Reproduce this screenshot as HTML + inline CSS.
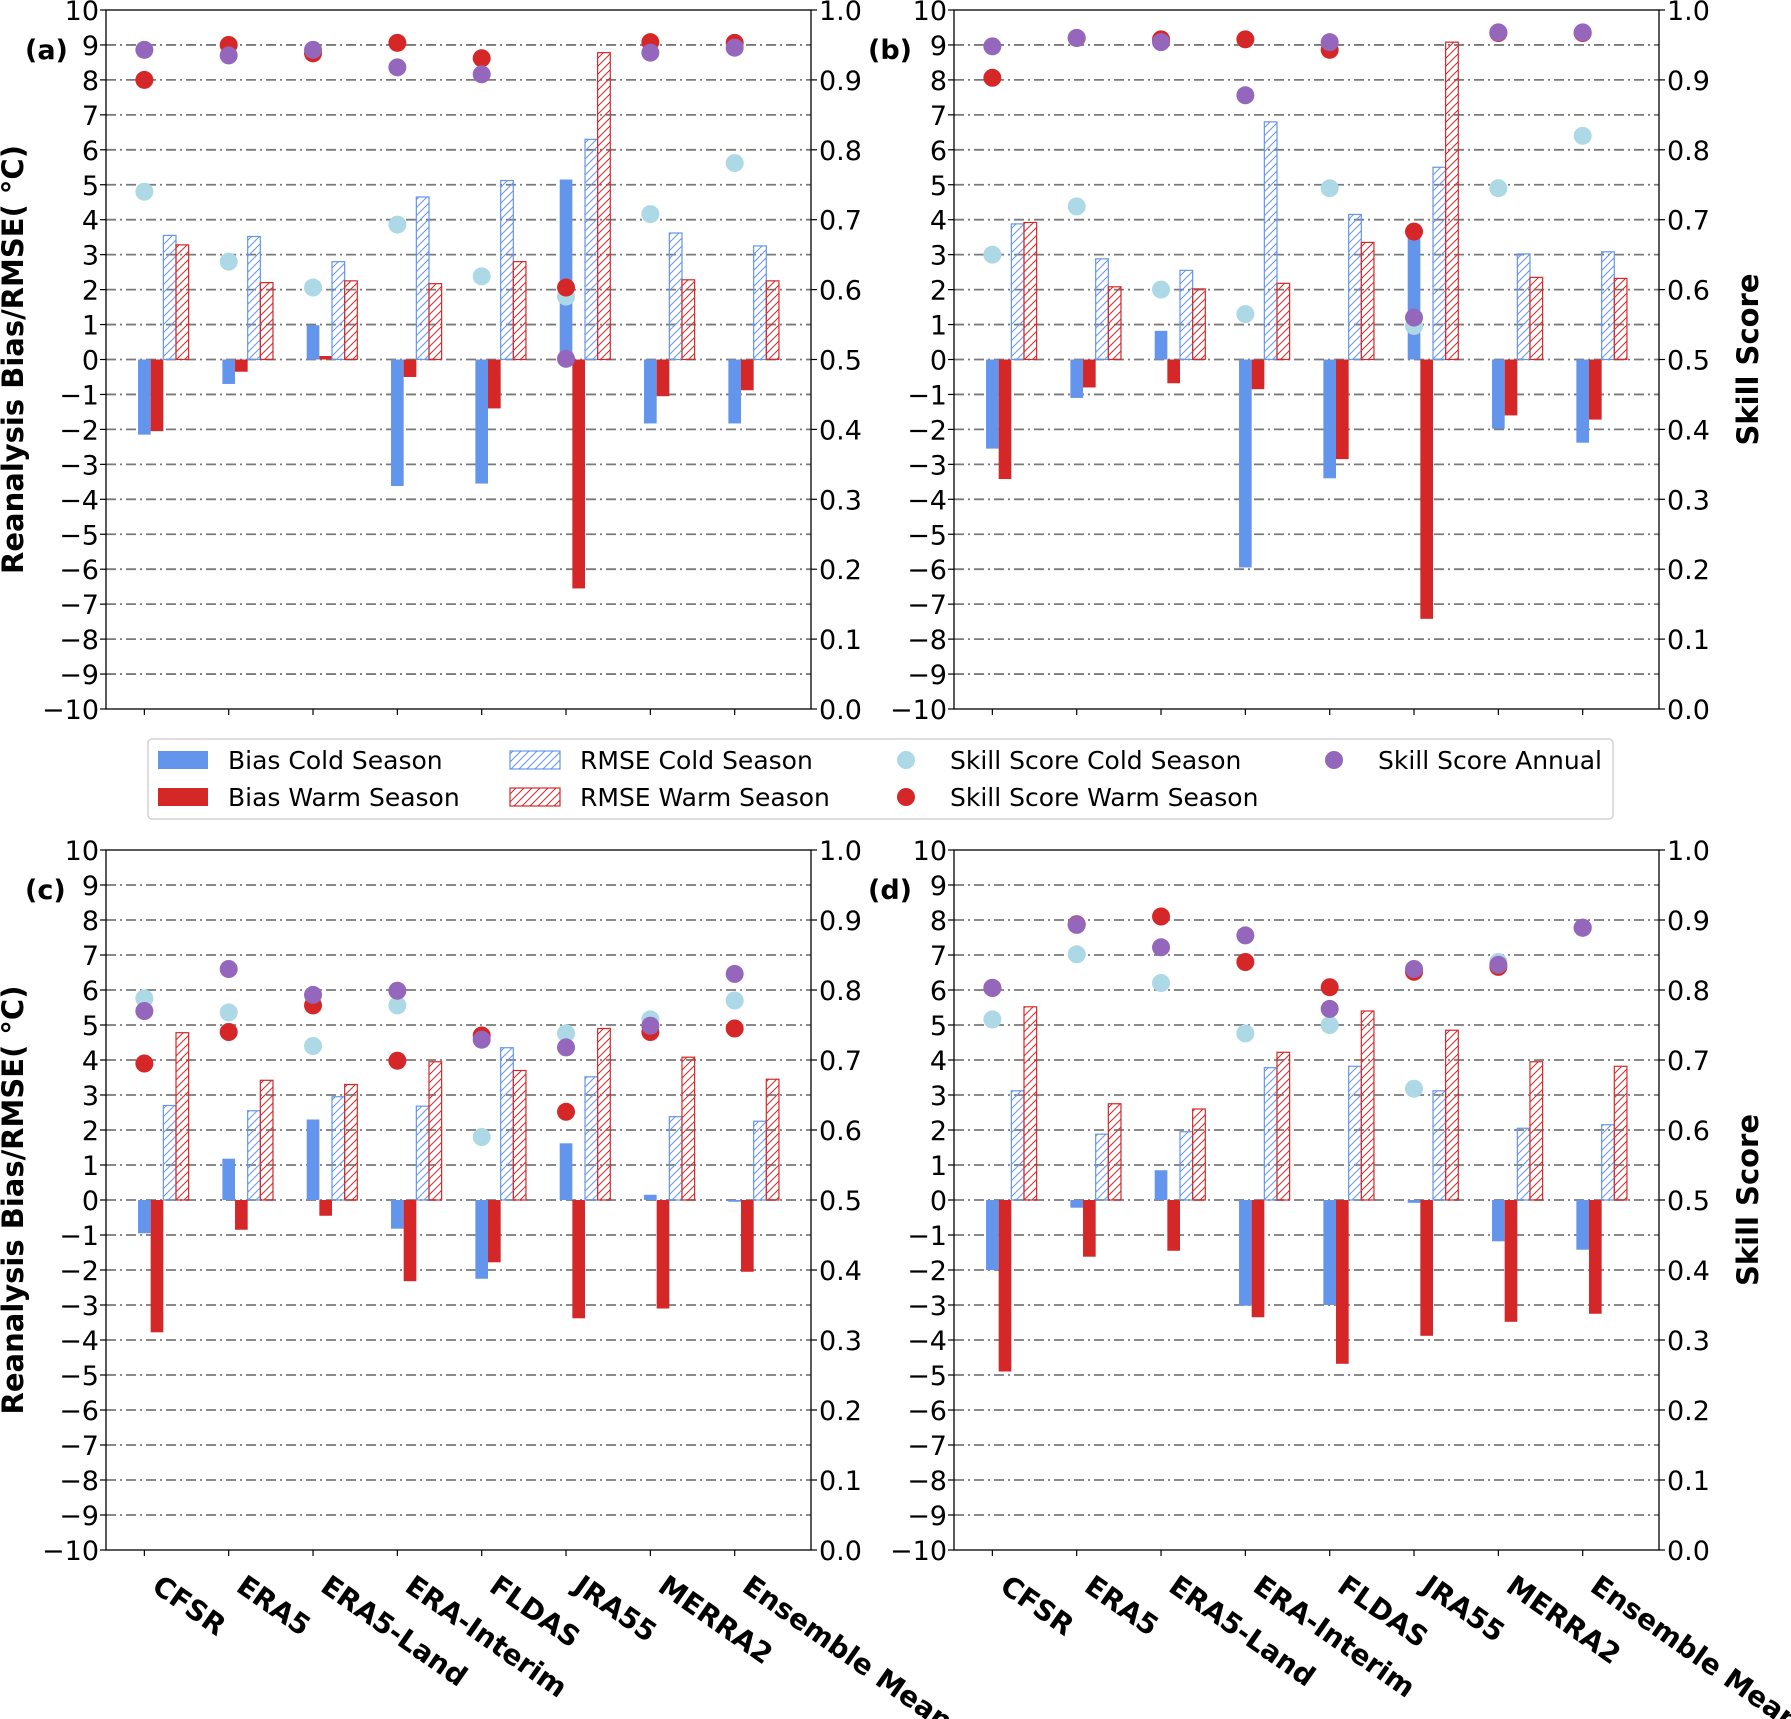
<!DOCTYPE html>
<html><head><meta charset="utf-8"><style>
html,body{margin:0;padding:0;background:#fff;}
svg{display:block;font-family:"DejaVu Sans","Liberation Sans",sans-serif;}
</style></head><body>
<svg id="fig" width="1791" height="1719" viewBox="0 0 1791 1719" xmlns="http://www.w3.org/2000/svg">
<defs>
<pattern id="hatchC" patternUnits="userSpaceOnUse" width="8" height="8">
<path d="M-2,2 l4,-4 M0,8 l8,-8 M6,10 l4,-4" stroke="#6495ED" stroke-width="1"/></pattern>
<pattern id="hatchW" patternUnits="userSpaceOnUse" width="8" height="8">
<path d="M-2,2 l4,-4 M0,8 l8,-8 M6,10 l4,-4" stroke="#D62728" stroke-width="1"/></pattern>
</defs>
</svg>
<script>
const categories=["CFSR","ERA5","ERA5-Land","ERA-Interim","FLDAS","JRA55","MERRA2","Ensemble Mean"];
// panel a
const aBiasCold=[-2.15,-0.7,0.98,-3.62,-3.55,5.15,-1.83,-1.83];
const aBiasWarm=[-2.05,-0.35,0.1,-0.5,-1.4,-6.55,-1.05,-0.88];
const aRmseCold=[3.55,3.52,2.8,4.65,5.12,6.3,3.62,3.25];
const aRmseWarm=[3.28,2.2,2.25,2.17,2.8,8.78,2.28,2.25];
const aSkillCold=[0.74,0.64,0.603,0.693,0.619,0.59,0.708,0.781];
const aSkillWarm=[0.90,0.95,0.938,0.953,0.931,0.603,0.954,0.953];
const aSkillAnnual=[0.943,0.935,0.943,0.918,0.908,0.501,0.939,0.946];
// panel b
const bBiasCold=[-2.55,-1.1,0.82,-5.95,-3.4,3.62,-1.98,-2.38];
const bBiasWarm=[-3.42,-0.8,-0.68,-0.85,-2.85,-7.42,-1.6,-1.72];
const bRmseCold=[3.88,2.88,2.55,6.8,4.15,5.5,3.02,3.08];
const bRmseWarm=[3.92,2.08,2.02,2.18,3.35,9.08,2.35,2.32];
const bSkillCold=[0.65,0.719,0.60,0.565,0.745,0.548,0.745,0.82];
const bSkillWarm=[0.903,0.96,0.958,0.958,0.943,0.683,0.967,0.967];
const bSkillAnnual=[0.948,0.96,0.954,0.878,0.954,0.56,0.968,0.968];
// panel c
const cBiasCold=[-0.95,1.18,2.3,-0.82,-2.25,1.62,0.15,-0.05];
const cBiasWarm=[-3.78,-0.85,-0.45,-2.32,-1.78,-3.38,-3.1,-2.05];
const cRmseCold=[2.7,2.55,2.95,2.68,4.35,3.52,2.38,2.25];
const cRmseWarm=[4.78,3.42,3.3,3.95,3.7,4.9,4.08,3.45];
const cSkillCold=[0.788,0.768,0.72,0.778,0.59,0.738,0.758,0.785];
const cSkillWarm=[0.695,0.74,0.778,0.699,0.735,0.626,0.74,0.745];
const cSkillAnnual=[0.77,0.83,0.793,0.799,0.729,0.718,0.749,0.823];
// panel d
const dBiasCold=[-2.0,-0.22,0.85,-3.02,-3.0,-0.08,-1.18,-1.42];
const dBiasWarm=[-4.9,-1.62,-1.45,-3.35,-4.68,-3.88,-3.48,-3.25];
const dRmseCold=[3.12,1.88,1.95,3.78,3.82,3.12,2.05,2.15];
const dRmseWarm=[5.52,2.75,2.6,4.22,5.4,4.85,3.95,3.82];
const dSkillCold=[0.758,0.851,0.81,0.738,0.75,0.659,0.84,0.889];
const dSkillWarm=[0.803,0.894,0.905,0.84,0.804,0.826,0.833,0.889];
const dSkillAnnual=[0.803,0.893,0.861,0.878,0.773,0.83,0.836,0.889];
const leftTicks=[-10,-9,-8,-7,-6,-5,-4,-3,-2,-1,0,1,2,3,4,5,6,7,8,9,10];
const rightTicks=["0.0","0.1","0.2","0.3","0.4","0.5","0.6","0.7","0.8","0.9","1.0"];

const NS="http://www.w3.org/2000/svg";
const svg=document.getElementById('fig');
function mk(tag,attrs,parent,text){const e=document.createElementNS(NS,tag);for(const k in attrs)e.setAttribute(k,attrs[k]);if(text!==undefined)e.textContent=text;(parent||svg).appendChild(e);return e;}

const panels=[
 {id:'a',L:106,R:811,T:10,B:709,bc:aBiasCold,bw:aBiasWarm,rc:aRmseCold,rw:aRmseWarm,sc:aSkillCold,sw:aSkillWarm,sa:aSkillAnnual,leftLab:true,rightLab:false,xl:false},
 {id:'b',L:954,R:1659,T:10,B:709,bc:bBiasCold,bw:bBiasWarm,rc:bRmseCold,rw:bRmseWarm,sc:bSkillCold,sw:bSkillWarm,sa:bSkillAnnual,leftLab:false,rightLab:true,xl:false},
 {id:'c',L:106,R:811,T:850,B:1550,bc:cBiasCold,bw:cBiasWarm,rc:cRmseCold,rw:cRmseWarm,sc:cSkillCold,sw:cSkillWarm,sa:cSkillAnnual,leftLab:true,rightLab:false,xl:true},
 {id:'d',L:954,R:1659,T:850,B:1550,bc:dBiasCold,bw:dBiasWarm,rc:dRmseCold,rw:dRmseWarm,sc:dSkillCold,sw:dSkillWarm,sa:dSkillAnnual,leftLab:false,rightLab:true,xl:true}
];
const X0=-0.455,X1=7.905,BW=0.15;
panels.forEach(p=>{
 const g=mk('g',{});
 
 
 const xs=v=>p.L+(v-X0)/(X1-X0)*(p.R-p.L);
 const yl=v=>p.B-(v+10)/20*(p.B-p.T);
 const yr=v=>p.B-v*(p.B-p.T);
 for(let i=-9;i<=9;i++){const l=mk('line',{x1:p.L,x2:p.R,y1:yl(i),y2:yl(i),stroke:'#7a7a7a','stroke-width':1.8,'stroke-dasharray':'10,4,2,4'},g);
  
  }
 const bar=(x,v,fill,stroke,name)=>{const y0=yl(0),y1=yl(v);const r=mk('rect',{x:xs(x-BW/2),y:Math.min(y0,y1),width:xs(BW)-xs(0),height:Math.abs(y1-y0),fill:fill,stroke:stroke||'none','stroke-width':stroke?1.2:0},g);
  
  };
 categories.forEach((c,i)=>{
  bar(i,p.bc[i],'#6495ED',null,'bar-bias-cold');
  bar(i+BW,p.bw[i],'#D62728',null,'bar-bias-warm');
  bar(i+2*BW,p.rc[i],'url(#hatchC)','#6495ED','bar-rmse-cold');
  bar(i+3*BW,p.rw[i],'url(#hatchW)','#D62728','bar-rmse-warm');
 });
 const dot=(i,v,col,name)=>{const c=mk('circle',{cx:xs(i),cy:yr(v),r:9,fill:col},g);
  
  };
 categories.forEach((c,i)=>dot(i,p.sc[i],'#ADD8E6','point-skill-cold'));
 categories.forEach((c,i)=>dot(i,p.sw[i],'#D62728','point-skill-warm'));
 categories.forEach((c,i)=>dot(i,p.sa[i],'#9467BD','point-skill-annual'));
 const f=mk('rect',{x:p.L,y:p.T,width:p.R-p.L,height:p.B-p.T,fill:'none',stroke:'#000','stroke-width':1.3},g);
 
 
 leftTicks.forEach(t=>{const y=yl(t);mk('line',{x1:p.L-6,x2:p.L,y1:y,y2:y,stroke:'#000','stroke-width':1.2},g);
  const tx=mk('text',{x:p.L-7,y:y+10,'text-anchor':'end','font-size':27},g,t<0?'\u2212'+(-t):String(t));
  
  });
 rightTicks.forEach((t,k)=>{const y=yr(k/10);mk('line',{x1:p.R,x2:p.R+6,y1:y,y2:y,stroke:'#000','stroke-width':1.2},g);
  const tx=mk('text',{x:p.R+8,y:y+10,'font-size':27},g,t);
  
  });
 categories.forEach((c,i)=>{const x=xs(i);mk('line',{x1:x,x2:x,y1:p.B,y2:p.B+6,stroke:'#000','stroke-width':1.2},g);
  if(p.xl){const tx=mk('text',{x:x+6,y:p.B+40,'font-size':28,'font-weight':'bold',transform:`rotate(35 ${x+6} ${p.B+40})`},g,c);
   
   }});
 const pl=mk('text',{x:p.L-(p.id==='a'||p.id==='c'?81:86),y:p.T+49,'font-size':27,'font-weight':'bold'},g,'('+p.id+')');
 
 
 const cy=(p.T+p.B)/2;
 if(p.leftLab){const t=mk('text',{x:23,y:cy,'font-size':29,'font-weight':'bold','text-anchor':'middle',transform:`rotate(-90 23 ${cy})`},g,'Reanalysis Bias/RMSE( \u00b0C)');
  
  }
 if(p.rightLab){const t=mk('text',{x:1758,y:cy,'font-size':29,'font-weight':'bold','text-anchor':'middle',transform:`rotate(-90 1758 ${cy})`},g,'Skill Score');
  
  }
});
const lg=mk('g',{});


mk('rect',{x:148,y:739,width:1465,height:80,rx:4,fill:'#fff',stroke:'#ccc','stroke-width':1.3},lg);
const entries=[
 {t:'Bias Cold Season',x:158,y:760,k:'patch',c:'#6495ED'},
 {t:'Bias Warm Season',x:158,y:797,k:'patch',c:'#D62728'},
 {t:'RMSE Cold Season',x:510,y:760,k:'hatch',c:'#6495ED',p:'url(#hatchC)'},
 {t:'RMSE Warm Season',x:510,y:797,k:'hatch',c:'#D62728',p:'url(#hatchW)'},
 {t:'Skill Score Cold Season',x:906,y:760,k:'dot',c:'#ADD8E6'},
 {t:'Skill Score Warm Season',x:906,y:797,k:'dot',c:'#D62728'},
 {t:'Skill Score Annual',x:1334,y:760,k:'dot',c:'#9467BD'}
];
entries.forEach(e=>{
 const g=mk('g',{},lg);
 
 
 let tx;
 if(e.k==='patch'){mk('rect',{x:e.x,y:e.y-9,width:50,height:18,fill:e.c},g);tx=e.x+70;}
 else if(e.k==='hatch'){mk('rect',{x:e.x,y:e.y-9,width:50,height:18,fill:e.p,stroke:e.c,'stroke-width':1.2},g);tx=e.x+70;}
 else {mk('circle',{cx:e.x,cy:e.y,r:9,fill:e.c},g);tx=e.x+44;}
 mk('text',{x:tx,y:e.y+9,'font-size':25},g,e.t);
});
</script>
</body></html>
